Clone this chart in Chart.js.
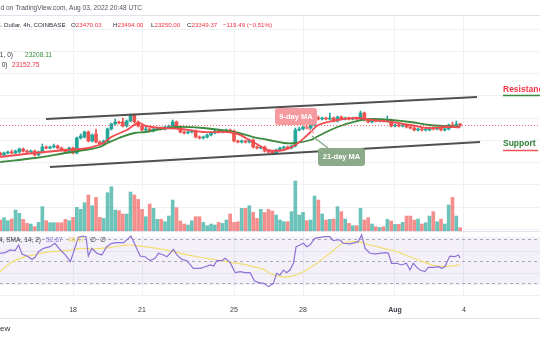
<!DOCTYPE html>
<html><head><meta charset="utf-8">
<script src="https://cdn.jsdelivr.net/npm/chart.js@4.4.0/dist/chart.umd.min.js"></script>
<style>html,body{margin:0;padding:0;background:#fff;overflow:hidden}canvas{display:block}</style>
</head><body>
<canvas id="c" width="540" height="340"></canvas>
<script>
// ---- 4h candles (index 0 = Jul 14 20:00 UTC, one per 4h) ----
const open = [20854,20674,20854,20943,20854,20943,21213,21033,20943,21033,
 20674,20943,21393,21303,21393,21483,21303,21123,20943,21303,
 20854,22202,22292,22741,21932,22562,21842,21663,21932,23011,
 23461,23640,23640,23281,23730,24270,23640,23281,22921,23011,
 22831,23011,23101,23011,23191,23281,23640,23191,22741,22652,
 22741,22831,22292,22202,22292,22472,22652,22831,22741,22831,
 22921,22831,21932,21842,21932,21842,22022,21393,21303,21393,
 21033,20943,20854,21123,21303,21393,21303,21483,22921,23011,
 23191,23101,23371,24000,23910,24000,23910,24000,23730,24090,
 23910,24000,23910,24000,23910,24449,23820,23640,23820,23730,
 23820,23730,23820,23281,23371,23281,23371,23191,23101,22921,
 23011,22921,22921,23101,23011,23101,22921,23011,23371,23281,
 23470.03];
const close = [20674,20854,20943,20854,21033,21213,21033,20943,21033,20674,
 20943,21393,21303,21393,21483,21303,21123,20943,21303,20854,
 22202,22382,22741,21932,22472,21842,21663,21932,23011,23461,
 23640,23550,23281,23730,24270,23640,23281,22921,23011,22831,
 23011,23101,23011,23191,23281,23640,23191,22741,22652,22741,
 22831,22292,22202,22292,22472,22652,22831,22741,22831,22921,
 22831,21932,21842,21932,21842,22022,21393,21303,21393,21033,
 20943,20854,21123,21303,21393,21303,21483,22921,23011,23191,
 23101,23371,24000,23910,24000,23910,24000,23730,24090,23910,
 24000,23910,24000,23910,24449,23820,23640,23820,23730,23820,
 23730,23820,23281,23371,23281,23371,23191,23101,22921,23011,
 22921,23011,23101,23011,23101,22921,23011,23371,23281,23461,
 23349.37];
const high = [20943,20943,21033,21123,21123,21303,21303,21123,21123,21123,
 21033,21663,21483,21483,21663,21573,21393,21213,21393,21393,
 22292,22562,22831,22831,22562,23011,21932,22022,23101,23550,
 23910,23730,24000,23820,24360,24360,23730,23371,23191,23101,
 23101,23191,23191,23281,23371,23820,23730,23281,22831,22831,
 22921,22921,22382,22382,22562,22741,22921,22921,22921,23011,
 23011,22921,22022,22022,22022,22112,22112,21483,21483,21483,
 21123,21033,21213,21393,21483,21483,21573,23101,23191,23281,
 23281,23461,24090,24180,24090,24090,24449,24090,24180,24180,
 24090,24090,24090,24090,24629,24539,23910,23910,23910,23910,
 23910,24180,23910,23461,23461,23461,23461,23281,23191,23101,
 23101,23101,23191,23191,23191,23191,23101,23461,23640,23730,
 23494.00];
const low = [20584,20584,20764,20764,20764,20854,20943,20854,20854,20584,
 20584,20854,21213,21213,21303,21213,21033,20854,20854,20764,
 20764,22112,22202,21842,21842,21753,21573,21573,21842,22921,
 23371,23461,23191,23191,23640,23550,23191,22831,22831,22741,
 22741,22921,22921,22921,23101,23191,23101,22652,22562,22562,
 22652,22202,22112,22112,22202,22382,22562,22652,22652,22741,
 22741,21842,21753,21753,21753,21753,21303,21213,21213,20943,
 20764,20764,20764,21033,21213,21213,21213,21393,22831,22921,
 23011,23011,23281,23820,23820,23820,23820,23640,23640,23820,
 23820,23820,23820,23820,23820,23730,23550,23550,23640,23640,
 23640,23640,23191,23191,23191,23191,23101,23011,22831,22831,
 22831,22831,22831,22921,22921,22831,22831,22921,23191,23191,
 23250.00];
const volume = [1710,2080,1600,1870,3310,2770,1810,1170,1070,640,
 1330,3840,1600,1280,1280,1280,1280,1810,1600,2130,
 3730,3410,4480,5710,4000,5330,2130,1970,6080,7040,
 3310,3200,2670,2670,6190,5710,5010,3410,2240,4270,
 3570,1810,1810,1440,2350,4910,3680,1550,1070,910,
 1600,2240,2240,1330,800,1070,910,1330,1170,1710,
 2670,1330,1440,3570,3570,4000,2930,1970,3410,2900,
 3410,3150,2510,1710,1440,1440,3040,7950,2510,2930,
 1600,1710,5550,4910,2670,1710,1810,1870,3840,3040,
 1870,1170,800,800,3570,1710,2080,1070,640,530,
 640,1810,1550,1010,1010,1330,2350,2350,1710,1870,
 1070,1280,2350,3040,1440,1870,1070,4110,5330,2350,
 480];

// ---- moving averages (read at candle indices) ----
const ma9Idx = [0,9,17,21,24,27,29,33,36,38,42,47,53,61,66,70,74,77,81,83,88,93,97,102,107,112,116,120];
const ma9Val = [20494,20854,21123,21213,21393,21753,22292,22921,23550,23281,23101,23011,22741,22652,21842,21123,21123,21573,22741,23371,23820,24000,23820,23640,23371,23101,23191,23152.75];
const ma21Idx = [0,9,17,22,26,28,31,35,38,42,46,53,61,66,70,74,77,81,83,88,93,97,102,107,112,116,120];
const ma21Val = [20044,20404,20854,21123,21393,21753,22202,22652,22741,23011,23191,23101,22741,22292,22022,21753,21753,22022,22382,23191,23730,23910,23820,23640,23371,23281,23208.11];

// ---- channel drawing ----
const chUpperX = [11.95, 124.4], chUpperY = [23910, 25888];
const chLowerX = [13.0, 125.2],  chLowerY = [19595, 21842];

// ---- RSI (14) and its SMA ----
const rsiIdx = [0,1.3,2.6,3.9,4.8,5.7,7,8.3,9.1,10,11.3,13,14.3,15.7,17,18.3,19.1,20.4,21.6,22.4,
 23,23.9,25.2,26.5,27.8,29.1,30.4,32.2,33.5,34.1,35.2,36.5,37.8,39.1,40.4,41.3,42.6,43.5,44.3,45.2,
 46.1,47.4,48.7,50.4,52.2,53.5,54.8,55.7,56.5,57.8,58.7,60,61.3,62.6,63.9,65.2,66.3,67.4,68.7,70,
 71.3,72.1,73,73.9,74.7,75.6,76.5,77.2,78.2,79.1,80,80.8,82.1,83.4,84.7,86,86.9,87.8,88.7,89.5,
 91.3,92.6,93.4,94.3,95.2,96.5,97.8,99.1,100.4,101.3,102.1,103.4,104.7,106,106.9,107.8,108.7,109.5,110.8,111.7,
 113,114.3,115.2,116,117.3,118.6,119.5,120];
const rsiVal = [57.0,57.6,60.0,59.4,64.5,56.4,54.5,51.5,53.3,58.5,61.5,63.0,66.1,60.0,55.5,49.4,57.6,71.5,72.7,72.1,
 54.5,61.5,57.0,55.5,63.0,66.1,66.7,66.7,70.6,72.7,64.5,54.5,53.9,50.3,52.4,57.0,55.5,53.9,57.0,60.6,
 55.5,51.5,50.3,43.3,43.3,44.8,46.4,45.4,50.3,50.3,52.4,48.5,39.4,40.3,39.4,39.4,32.1,30.3,29.7,26.7,
 29.7,38.8,37.3,41.8,39.4,41.8,47.9,63.0,64.5,66.1,63.0,64.5,70.6,71.5,72.1,72.1,68.5,69.1,69.1,66.1,
 65.5,66.7,67.6,73.6,61.5,57.0,56.4,57.0,57.6,57.0,47.9,47.9,46.4,47.9,41.8,47.9,44.2,41.8,40.3,44.2,
 44.2,44.8,43.3,44.8,54.5,53.9,55.5,52.67];
const smaIdx = [0,2.6,5.2,8.7,13,17.4,20.9,24.3,28.7,33,36.5,40.9,45.2,48.7,53.9,59.1,64.3,68.7,70.4,73,75.6,79.1,82.6,86,89.5,93,96.5,100,103.4,106.9,110.4,113.9,117.3,120];
const smaVal = [40.3,47.9,52.4,55.5,58.5,59.4,61.5,60.9,62.4,64.5,63.6,61.5,58.5,55.5,52.4,49.4,46.4,42.4,38.8,35.8,35.8,40.3,47.9,57.0,66.1,67.6,64.5,61.5,58.5,53.9,49.4,45.4,45.4,46.47];
const rsiLevels = [70, 50, 30];

// ---- axis ticks ----
const tickPos = [19, 37, 61, 79, 103, 121];
const tickLabels = ['18', '21', '25', '28', 'Aug', '4'];
const priceGrid = [8000,10000,12000,14000,16000,18000,20000,22000,24000,26000,28000,30000,32000];

const FONT = '"Liberation Sans", Arial, sans-serif';
const UP = '#26a69a', DN = '#ef5350';
const UPV = 'rgba(38,166,154,0.68)', DNV = 'rgba(239,83,80,0.65)';
const isUp = i => close[i] >= open[i];
const pts = (xs, ys) => xs.map((x, k) => ({x, y: ys[k]}));

function rr(ctx, x, y, w, h, r) {
  ctx.beginPath();
  ctx.moveTo(x + r, y); ctx.lineTo(x + w - r, y); ctx.quadraticCurveTo(x + w, y, x + w, y + r);
  ctx.lineTo(x + w, y + h - r); ctx.quadraticCurveTo(x + w, y + h, x + w - r, y + h);
  ctx.lineTo(x + r, y + h); ctx.quadraticCurveTo(x, y + h, x, y + h - r);
  ctx.lineTo(x, y + r); ctx.quadraticCurveTo(x, y, x + r, y); ctx.closePath();
}

const deco = {
  id: 'deco',
  beforeDraw(chart) {
    const c = chart.ctx; c.save(); c.fillStyle = '#fff'; c.fillRect(0, 0, chart.width, chart.height); c.restore();
  },
  beforeDatasetsDraw(chart) {
    const c = chart.ctx, r = chart.scales.yRsi, W = chart.width;
    c.save();
    const yT = r.getPixelForValue(72), yB = r.getPixelForValue(28);
    c.fillStyle = 'rgba(126,87,194,0.09)';
    c.fillRect(0, yT, W, yB - yT);
    c.strokeStyle = '#e0e3eb'; c.lineWidth = 1;
    c.beginPath(); c.moveTo(0, 231.5); c.lineTo(W, 231.5); c.stroke();
    c.setLineDash([3, 3]); c.strokeStyle = '#a9acb4';
    rsiLevels.forEach(v => {
      const y = Math.round(r.getPixelForValue(v)) + 0.5;
      c.beginPath(); c.moveTo(0, y); c.lineTo(W, y); c.stroke();
    });
    c.restore();
  },
  afterDatasetsDraw(chart) {
    const c = chart.ctx, p = chart.scales.yPrice, W = chart.width;
    c.save();
    const yl = Math.round(p.getPixelForValue(close[close.length - 1])) + 0.5;
    c.setLineDash([1, 2]); c.strokeStyle = 'rgba(242,54,69,0.75)'; c.lineWidth = 1;
    c.beginPath(); c.moveTo(0, yl); c.lineTo(W, yl); c.stroke();
    c.setLineDash([]);
    c.lineWidth = 1.5;
    c.strokeStyle = '#f59a9e';
    c.beginPath(); c.moveTo(303, 125); c.lineTo(314, 133); c.stroke();
    c.strokeStyle = '#8aaa89';
    c.beginPath(); c.moveTo(328, 148); c.lineTo(312, 136); c.stroke();
    c.fillStyle = '#f59a9e'; rr(c, 275, 108, 42, 17, 3); c.fill();
    c.fillStyle = '#8aaa89'; rr(c, 318, 148, 47, 18, 3); c.fill();
    c.fillStyle = '#ffffff'; c.font = '600 7.5px ' + FONT; c.textAlign = 'center'; c.textBaseline = 'middle';
    c.fillText('9-day MA', 296, 116.5);
    c.fillText('21-day MA', 341.5, 157);
    c.textAlign = 'left'; c.font = 'bold 8.5px ' + FONT;
    c.fillStyle = '#f23645'; c.fillText('Resistance', 503, 90);
    c.fillStyle = '#2e7d32'; c.fillText('Support', 503, 144);
    c.lineWidth = 1.5;
    c.strokeStyle = '#3b8a3e'; c.beginPath(); c.moveTo(503, 95.5); c.lineTo(540, 95.5); c.stroke();
    c.strokeStyle = '#f0545c'; c.beginPath(); c.moveTo(503, 150.5); c.lineTo(538, 150.5); c.stroke();
    c.font = '6.6px ' + FONT; c.textBaseline = 'middle';
    c.textAlign = 'right'; c.fillStyle = '#3b3e47';
    c.fillText('MA (close, 21, 0)', 13, 55);
    c.fillText('MA (close, 9, 0)', 7.5, 65.5);
    c.textAlign = 'left';
    c.fillStyle = '#3b8a3e'; c.fillText(ma21Val[ma21Val.length - 1].toFixed(2), 25, 55);
    c.fillStyle = '#f23645'; c.fillText(ma9Val[ma9Val.length - 1].toFixed(2), 12, 65.5);
    c.textAlign = 'right'; c.fillStyle = '#3b3e47';
    c.fillText('RSI (close, 14, SMA, 14, 2)', 41, 240.5);
    c.textAlign = 'left';
    c.fillStyle = '#8f71d4'; c.fillText(rsiVal[rsiVal.length - 1].toFixed(2), 46, 240.5);
    c.fillStyle = '#e8cf4a'; c.fillText(smaVal[smaVal.length - 1].toFixed(2), 68, 240.5);
    c.fillStyle = '#3b3e47'; c.fillText('\u2205', 90, 240.5); c.fillText('\u2205', 100, 240.5);
    c.restore();
  },
  afterDraw(chart) {
    const c = chart.ctx, W = chart.width;
    c.save();
    c.strokeStyle = '#e0e3eb'; c.lineWidth = 1;
    c.beginPath(); c.moveTo(0, 15.5); c.lineTo(W, 15.5); c.stroke();
    c.beginPath(); c.moveTo(0, 318.5); c.lineTo(W, 318.5); c.stroke();
    c.textBaseline = 'middle'; c.textAlign = 'left';
    c.font = '6.6px ' + FONT;
    c.fillStyle = '#50535e';
    const t1 = 'Published on TradingView.com, Aug 03, 2022 20:48 UTC';
    c.fillText(t1, -c.measureText('Publishe').width + 0.5, 8);
    c.font = '6.2px ' + FONT;
    c.fillStyle = '#2a2e39';
    c.fillText('Bitcoin / U.S. Dollar, 4h, COINBASE', 4 - c.measureText('Bitcoin / U.S. ').width, 25);
    const ohlc = [['O', open[open.length - 1], 71], ['H', high[high.length - 1], 113], ['L', low[low.length - 1], 151], ['C', close[close.length - 1], 187]];
    ohlc.forEach(([k, v, x]) => {
      c.fillStyle = '#2a2e39'; c.fillText(k, x, 25);
      c.fillStyle = '#f23645'; c.fillText(v.toFixed(2), x + c.measureText(k).width, 25);
    });
    c.fillStyle = '#f23645';
    c.fillText('\u2212119.49 (\u22120.51%)', 223, 25);
    c.fillStyle = '#2a2e39'; c.font = '8px ' + FONT;
    c.fillText('ew', 0, 329);
    c.restore();
  }
};

new Chart(document.getElementById('c'), {
  type: 'bar',
  data: { datasets: [
    { type: 'line', label: 'Channel top', data: pts(chUpperX, chUpperY), yAxisID: 'yPrice', borderColor: '#4f5050', borderWidth: 2, pointRadius: 0, order: 1 },
    { type: 'line', label: 'Channel bottom', data: pts(chLowerX, chLowerY), yAxisID: 'yPrice', borderColor: '#4f5050', borderWidth: 2, pointRadius: 0, order: 1 },
    { type: 'line', label: '9-day MA', data: pts(ma9Idx, ma9Val), yAxisID: 'yPrice', borderColor: '#f24b50', borderWidth: 1.8, tension: 0.4, pointRadius: 0, order: 2 },
    { type: 'line', label: '21-day MA', data: pts(ma21Idx, ma21Val), yAxisID: 'yPrice', borderColor: '#3b8a3e', borderWidth: 1.8, tension: 0.4, pointRadius: 0, order: 2 },
    { type: 'bar', label: 'Body', data: open.map((o, i) => ({x: i, y: [o, close[i]]})), yAxisID: 'yPrice',
      backgroundColor: open.map((o, i) => isUp(i) ? UP : DN), barThickness: 3, grouped: false, order: 3 },
    { type: 'bar', label: 'Wick', data: low.map((l, i) => ({x: i, y: [l, high[i]]})), yAxisID: 'yPrice',
      backgroundColor: open.map((o, i) => isUp(i) ? UP : DN), barThickness: 1, grouped: false, order: 4 },
    { type: 'line', label: 'RSI', data: pts(rsiIdx, rsiVal), yAxisID: 'yRsi', borderColor: '#8f71d4', borderWidth: 1.2, tension: 0, pointRadius: 0, order: 5 },
    { type: 'line', label: 'RSI SMA', data: pts(smaIdx, smaVal), yAxisID: 'yRsi', borderColor: '#f4dd70', borderWidth: 1.2, tension: 0.4, pointRadius: 0, order: 6 },
    { type: 'bar', label: 'Volume', data: volume.map((v, i) => ({x: i, y: v})), yAxisID: 'yVol',
      backgroundColor: open.map((o, i) => isUp(i) ? UPV : DNV), barThickness: 3, grouped: false, order: 7 }
  ]},
  options: {
    responsive: false, animation: false, devicePixelRatio: 1, events: [],
    layout: { padding: { top: 16, bottom: 22, left: 0, right: 0 } },
    plugins: { legend: { display: false }, tooltip: { enabled: false } },
    scales: {
      x: {
        type: 'linear', axis: 'x', min: -0.05, max: 140.83, offset: false,
        grid: { color: '#eff1f5', drawTicks: false, offset: false },
        border: { display: false },
        afterBuildTicks: s => { s.ticks = tickPos.map(v => ({value: v})); },
        afterFit: s => { s.height = 21; },
        ticks: {
          autoSkip: false, maxRotation: 0, padding: 9, color: '#3b3e47',
          font: ctx => ({ family: FONT, size: 7, weight: ctx.index === 4 ? 'bold' : 'normal' }),
          callback: v => { const k = tickPos.indexOf(v); return k >= 0 ? tickLabels[k] : ''; }
        }
      },
      yPrice: {
        type: 'linear', axis: 'y', position: 'right', min: 7910, max: 33169,
        afterBuildTicks: s => { s.ticks = priceGrid.map(v => ({value: v})); },
        afterFit: s => { s.width = 0; },
        ticks: { display: false },
        grid: { color: '#eff1f5', drawTicks: false },
        border: { display: false }
      },
      yVol: { type: 'linear', axis: 'y', position: 'left', display: false, min: -10608, max: 34352 },
      yRsi: { type: 'linear', axis: 'y', position: 'left', display: false, min: 17.27, max: 272.7 }
    }
  },
  plugins: [deco]
});
</script>
</body></html>
